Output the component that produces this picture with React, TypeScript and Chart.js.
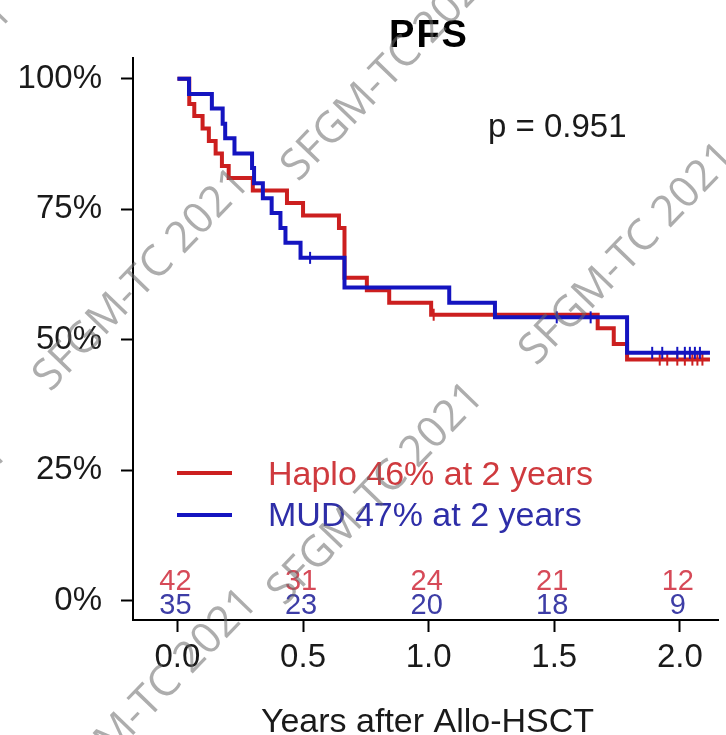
import React, { useEffect, useRef } from "react";
import { Chart, registerables } from "chart.js";

Chart.register(...registerables);

// ---- Data ----
const haploTimes = [0, 0.047, 0.067, 0.1, 0.125, 0.152, 0.177, 0.204, 0.3, 0.436, 0.5, 0.643, 0.665, 0.754, 0.843, 1.01, 1.673, 1.737, 1.79, 2.12];
const haploSurv = [100, 95.2, 92.9, 90.5, 88.1, 85.7, 83.3, 81.0, 78.6, 76.2, 73.8, 71.4, 61.9, 59.5, 57.1, 54.8, 52.2, 49.2, 46.2, 46.2];
const mudTimes = [0, 0.046, 0.137, 0.18, 0.19, 0.227, 0.297, 0.305, 0.34, 0.375, 0.41, 0.43, 0.49, 0.665, 1.082, 1.264, 1.79, 2.12];
const mudSurv = [100, 97.1, 94.3, 91.4, 88.6, 85.7, 82.9, 80.0, 77.1, 74.3, 71.4, 68.6, 65.7, 60.0, 57.1, 54.3, 47.5, 47.5];
const haploCensor = [1.02, 1.92, 1.95, 1.99, 2.02, 2.05, 2.07, 2.09];
const mudCensor = [0.528, 1.51, 1.645, 1.89, 1.93, 1.99, 2.02, 2.04, 2.06, 2.08];

const riskTimes = [0, 0.5, 1.0, 1.5, 2.0];
const haploRisk = [42, 31, 24, 21, 12];
const mudRisk = [35, 23, 20, 18, 9];

const xTickValues = [0, 0.5, 1.0, 1.5, 2.0];
const yTickValues = [0, 25, 50, 75, 100];

const titleText = "PFS";
const pText = "p = 0.951";
const haploLabel = "Haplo 46% at 2 years";
const mudLabel = "MUD 47% at 2 years";
const xTitle = "Years after Allo-HSCT";
const watermarkText = "SFGM-TC 2021";

const RED = "#cc1f1f";
const BLUE = "#1414c0";
const RED_TEXT = "#cf3a3e";
const BLUE_TEXT = "#2e2ea8";
const RED_RISK = "#d64a58";
const BLUE_RISK = "#3d3da6";
const FONT = '"Liberation Sans", Arial, sans-serif';

function survAt(times: number[], surv: number[], t: number) {
  let s = surv[0];
  for (let i = 0; i < times.length; i++) if (times[i] <= t) s = surv[i];
  return s;
}

const overlayPlugin = {
  id: "overlay",
  afterDraw(chart: any) {
    const { ctx, chartArea } = chart;
    const x = chart.scales.x;
    ctx.save();
    // Title
    ctx.fillStyle = "#000";
    ctx.font = `bold 38px ${FONT}`;
    ctx.textAlign = "center";
    ctx.textBaseline = "alphabetic";
    (ctx as any).letterSpacing = "2px";
    ctx.fillText(titleText, 429, 47);
    (ctx as any).letterSpacing = "0px";

    // p-value
    ctx.font = `33px ${FONT}`;
    ctx.textAlign = "left";
    ctx.fillStyle = "#1a1a1a";
    ctx.fillText(pText, 488, 137);

    // Legend
    ctx.lineWidth = 4;
    ctx.strokeStyle = RED;
    ctx.beginPath();
    ctx.moveTo(177, 473);
    ctx.lineTo(232, 473);
    ctx.stroke();
    ctx.strokeStyle = BLUE;
    ctx.beginPath();
    ctx.moveTo(177, 515);
    ctx.lineTo(232, 515);
    ctx.stroke();
    ctx.font = `34px ${FONT}`;
    ctx.fillStyle = RED_TEXT;
    ctx.fillText(haploLabel, 268, 485);
    ctx.fillStyle = BLUE_TEXT;
    ctx.fillText(mudLabel, 268, 526);

    // Numbers at risk
    ctx.font = `29px ${FONT}`;
    ctx.textAlign = "center";
    riskTimes.forEach((t, i) => {
      const px = x.getPixelForValue(t) - 2;
      ctx.fillStyle = RED_RISK;
      ctx.fillText(String(haploRisk[i]), px, 590);
      ctx.fillStyle = BLUE_RISK;
      ctx.fillText(String(mudRisk[i]), px, 614);
    });

    // X title
    ctx.font = `34px ${FONT}`;
    ctx.fillStyle = "#1a1a1a";
    ctx.fillText(xTitle, (chartArea.left + chartArea.right) / 2 + 2, 732);

    // Watermarks
    const marks = [
      [142, 280],
      [390, 70],
      [628, 254],
      [376, 494],
      [150, 700],
      [-95, 110],
      [-100, 550],
    ];
    ctx.font = `43px "Open Sans", ${FONT}`;
    ctx.fillStyle = "rgba(105,105,105,0.55)";
    ctx.textAlign = "center";
    ctx.textBaseline = "middle";
    marks.forEach(([cx, cy]) => {
      ctx.save();
      ctx.translate(cx, cy);
      ctx.rotate((-46 * Math.PI) / 180);
      ctx.fillText(watermarkText, 0, 0);
      ctx.restore();
    });
    ctx.restore();
  },
};

export default function App() {
  const ref = useRef<HTMLCanvasElement>(null);
  useEffect(() => {
    document.body.style.margin = "0";
    const canvas = ref.current!;
    const mkCensor = (times: number[], st: number[], sv: number[]) =>
      times.map((t) => ({ x: t, y: survAt(st, sv, t) }));
    const chart = new Chart(canvas, {
      type: "line",
      data: {
        datasets: [
          {
            label: "MUD",
            data: mudTimes.map((t, i) => ({ x: t, y: mudSurv[i] })),
            borderColor: BLUE,
            borderWidth: 4,
            stepped: true,
            pointRadius: 0,
            fill: false,
          },
          {
            label: "MUD censored",
            data: mkCensor(mudCensor, mudTimes, mudSurv),
            showLine: false,
            pointStyle: "line",
            rotation: 90,
            pointRadius: 6,
            borderColor: BLUE,
            pointBorderWidth: 2,
            borderWidth: 2,
          } as any,
          {
            label: "Haplo",
            data: haploTimes.map((t, i) => ({ x: t, y: haploSurv[i] })),
            borderColor: RED,
            borderWidth: 4,
            stepped: true,
            pointRadius: 0,
            fill: false,
          },
          {
            label: "Haplo censored",
            data: mkCensor(haploCensor, haploTimes, haploSurv),
            showLine: false,
            pointStyle: "line",
            rotation: 90,
            pointRadius: 6,
            borderColor: RED,
            pointBorderWidth: 2,
            borderWidth: 2,
          } as any,
        ],
      },
      options: {
        responsive: false,
        animation: false,
        layout: { padding: { top: 58, right: 0, left: 0, bottom: 0 } },
        plugins: { legend: { display: false }, tooltip: { enabled: false }, title: { display: false } },
        scales: {
          x: {
            type: "linear",
            min: -0.177,
            max: 2.152,
            afterFit: (s: any) => {
              s.height = 115;
            },
            afterBuildTicks: (s: any) => {
              s.ticks = xTickValues.map((v) => ({ value: v }));
            },
            ticks: {
              callback: (v: any) => Number(v).toFixed(1),
              font: { size: 33, family: FONT },
              color: "#1a1a1a",
              padding: 6,
              maxRotation: 0,
            },
            grid: { drawOnChartArea: false, drawTicks: true, tickLength: 12, tickWidth: 2, tickColor: "#000" },
            border: { display: true, color: "#000", width: 2 },
          },
          y: {
            type: "linear",
            min: -3.7,
            max: 104,
            afterFit: (s: any) => {
              s.width = 133;
            },
            afterBuildTicks: (s: any) => {
              s.ticks = yTickValues.map((v) => ({ value: v }));
            },
            ticks: {
              callback: (v: any) => `${v}%`,
              font: { size: 33, family: FONT },
              color: "#1a1a1a",
              padding: 19,
            },
            grid: { drawOnChartArea: false, drawTicks: true, tickLength: 12, tickWidth: 2, tickColor: "#000" },
            border: { display: true, color: "#000", width: 2 },
          },
        },
      },
      plugins: [overlayPlugin],
    });
    return () => chart.destroy();
  }, []);
  return (
    <div style={{ width: 726, height: 735 }}>
      <canvas ref={ref} width={726} height={735} style={{ display: "block" }} />
    </div>
  );
}
